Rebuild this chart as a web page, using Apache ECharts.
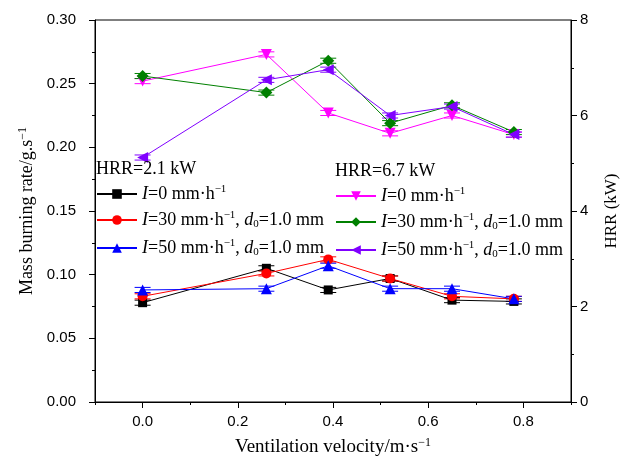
<!DOCTYPE html>
<html><head><meta charset="utf-8">
<script src="https://cdn.jsdelivr.net/npm/echarts@6/dist/echarts.min.js"></script>
<style>html,body{margin:0;padding:0;background:#fff}#c{width:625px;height:461px}</style>
</head><body><div id="c"></div>
<script>
var velocity = [0, 0.26, 0.39, 0.52, 0.65, 0.78];
var low_I0  = [0.078, 0.105, 0.088, 0.097, 0.080, 0.079];
var low_I30 = [0.083, 0.101, 0.112, 0.097, 0.083, 0.081];
var low_I50 = [0.088, 0.089, 0.107, 0.089, 0.089, 0.081];
var high_I0  = [0.252, 0.273, 0.227, 0.211, 0.225, 0.210];
var high_I30 = [0.256, 0.243, 0.268, 0.219, 0.233, 0.212];
var high_I50 = [0.192, 0.253, 0.261, 0.225, 0.232, 0.210];
var errLow  = [0.002, 0.002, 0.002, 0.002, 0.002, 0.002];
var errHigh = [0.002, 0.002, 0.002, 0.002, 0.002, 0.002];
var xTickLabels = [0, 0.2, 0.4, 0.6, 0.8];
var xMinorTicks = [-0.1, 0.1, 0.3, 0.5, 0.7, 0.9];
var legendTitles = ['HRR=2.1 kW', 'HRR=6.7 kW'];

var serif = 'Liberation Serif';
var sans = 'Liberation Sans';
var richT = {
  n: {fontFamily: serif, fontSize: 18, color: '#000'},
  i: {fontFamily: serif, fontSize: 18, fontStyle: 'italic', color: '#000'},
  sup: {fontFamily: serif, fontSize: 11, color: '#000', padding: [0, 0, 9, 0]},
  sub: {fontFamily: serif, fontSize: 11, color: '#000', padding: [8, 0, 0, 0]}
};
var labelText = {
  L0: '{i|I}{n|=0 mm·h}{sup|−1}',
  L30: '{i|I}{n|=30 mm·h}{sup|−1}{n|, }{i|d}{sub|0}{n|=1.0 mm}',
  L50: '{i|I}{n|=50 mm·h}{sup|−1}{n|, }{i|d}{sub|0}{n|=1.0 mm}',
  H0: '{i|I}{n|=0 mm·h}{sup|−1}',
  H30: '{i|I}{n|=30 mm·h}{sup|−1}{n|, }{i|d}{sub|0}{n|=1.0 mm}',
  H50: '{i|I}{n|=50 mm·h}{sup|−1}{n|, }{i|d}{sub|0}{n|=1.0 mm}'
};

function pairs(ys) { return velocity.map(function (x, k) { return [x, ys[k]]; }); }

function lineSeries(name, ys, color, symbol, rot, size) {
  return {
    name: name, type: 'line', data: pairs(ys), z: 3,
    symbol: symbol, symbolRotate: rot, symbolSize: size,
    lineStyle: {color: color, width: 1}, itemStyle: {color: color},
    emphasis: {disabled: true}, animation: false
  };
}
function errSeries(ys, err, color) {
  var d = velocity.map(function (x, k) { return [x, ys[k], err[k]]; });
  return {
    type: 'custom', data: d, z: 2, animation: false, silent: true,
    renderItem: function (params, api) {
      var x = api.value(0), y = api.value(1), e = api.value(2);
      var hi = api.coord([x, y + e]), lo = api.coord([x, y - e]);
      var w = 8;
      var st = {stroke: color, lineWidth: 1, fill: null};
      return {type: 'group', children: [
        {type: 'line', shape: {x1: hi[0], y1: hi[1], x2: lo[0], y2: lo[1]}, style: st},
        {type: 'line', shape: {x1: hi[0] - w, y1: hi[1], x2: hi[0] + w, y2: hi[1]}, style: st},
        {type: 'line', shape: {x1: lo[0] - w, y1: lo[1], x2: lo[0] + w, y2: lo[1]}, style: st}
      ]};
    }
  };
}

var defs = [
  ['L0', low_I0, errLow, '#000000', 'rect', 0, 9],
  ['L30', low_I30, errLow, '#ff0000', 'circle', 0, 10],
  ['L50', low_I50, errLow, '#0000ff', 'triangle', 0, 11],
  ['H0', high_I0, errHigh, '#ff00ff', 'triangle', 180, 11],
  ['H30', high_I30, errHigh, '#008000', 'diamond', 0, 12],
  ['H50', high_I50, errHigh, '#8000ff', 'triangle', 90, 11]
];
var series = [];
defs.forEach(function (d) { series.push(errSeries(d[1], d[2], d[3])); });
defs.forEach(function (d) { series.push(lineSeries(d[0], d[1], d[3], d[4], d[5], d[6])); });

var legendPos = {
  L0: [96, 184], L30: [96, 210], L50: [96, 238],
  H0: [335, 186], H30: [335, 212], H50: [335, 240]
};
var legends = defs.map(function (d) {
  return {
    data: [d[0]], left: legendPos[d[0]][0], top: legendPos[d[0]][1],
    itemWidth: 40, itemHeight: 12, itemGap: 0, padding: 0,
    selectedMode: false,
    formatter: function (nm) { return labelText[nm]; },
    textStyle: {rich: richT, fontFamily: serif, fontSize: 18, color: '#000'}
  };
});

var option = {
  backgroundColor: '#fff',
  animation: false,
  title: [
    {text: legendTitles[0], left: 96, top: 160, padding: 0, textStyle: {fontFamily: serif, fontSize: 18, fontWeight: 'normal', color: '#000'}},
    {text: legendTitles[1], left: 335, top: 162, padding: 0, textStyle: {fontFamily: serif, fontSize: 18, fontWeight: 'normal', color: '#000'}}
  ],
  legend: legends,
  grid: {left: 95, right: 54, top: 20, bottom: 59, outerBoundsMode: 'none', containLabel: false,
    show: true, borderColor: '#000', borderWidth: 1, backgroundColor: 'transparent'},
  xAxis: [{
    type: 'value', min: -0.1, max: 0.9,
    name: '{n|Ventilation velocity/m·s}{sup|−1}', nameLocation: 'middle', nameGap: 35,
    nameTextStyle: {rich: {
      n: {fontFamily: serif, fontSize: 19, color: '#000'},
      sup: {fontFamily: serif, fontSize: 12, color: '#000', padding: [0, 0, 9, 0]}
    }},
    axisLine: {onZero: false, lineStyle: {color: '#000', width: 1}},
    axisTick: {show: true, length: 6, customValues: xTickLabels, lineStyle: {color: '#000'}},
    axisLabel: {customValues: xTickLabels, margin: 12, fontFamily: sans, fontSize: 15, color: '#000',
      formatter: function (v) { return v.toFixed(1); }},
    splitLine: {show: false}
  }, {
    type: 'value', min: -0.1, max: 0.9, position: 'bottom',
    axisLine: {show: false, onZero: false},
    axisTick: {show: true, length: 3, customValues: xMinorTicks, lineStyle: {color: '#000'}},
    axisLabel: {show: false}, splitLine: {show: false}
  }],
  yAxis: [{
    type: 'value', min: 0, max: 0.3, interval: 0.05, position: 'left',
    name: '{n|Mass burning rate/g.s}{sup|−1}', nameLocation: 'middle', nameGap: 57,
    nameTextStyle: {rich: {
      n: {fontFamily: serif, fontSize: 18, color: '#000'},
      sup: {fontFamily: serif, fontSize: 12, color: '#000', padding: [0, 0, 9, 0]}
    }},
    axisLine: {show: true, onZero: false, lineStyle: {color: '#000', width: 1}},
    axisTick: {show: true, length: 6, lineStyle: {color: '#000'}},
    minorTick: {show: true, splitNumber: 2, length: 3, lineStyle: {color: '#000'}},
    axisLabel: {margin: 19, fontFamily: sans, fontSize: 15, color: '#000',
      formatter: function (v) { return v.toFixed(2); }},
    splitLine: {show: false}
  }, {
    type: 'value', min: 0, max: 8, interval: 2, position: 'right',
    name: 'HRR (kW)', nameLocation: 'middle', nameGap: 32, nameRotate: 90,
    nameTextStyle: {fontFamily: serif, fontSize: 17, color: '#000'},
    axisLine: {show: true, onZero: false, lineStyle: {color: '#000', width: 1}},
    axisTick: {show: true, length: 6, lineStyle: {color: '#000'}},
    minorTick: {show: true, splitNumber: 2, length: 3, lineStyle: {color: '#000'}},
    axisLabel: {margin: 9, fontFamily: sans, fontSize: 15, color: '#000'},
    splitLine: {show: false}
  }],
  series: series
};
var chart = echarts.init(document.getElementById('c'), null, {renderer: 'canvas'});
chart.setOption(option);
</script></body></html>
